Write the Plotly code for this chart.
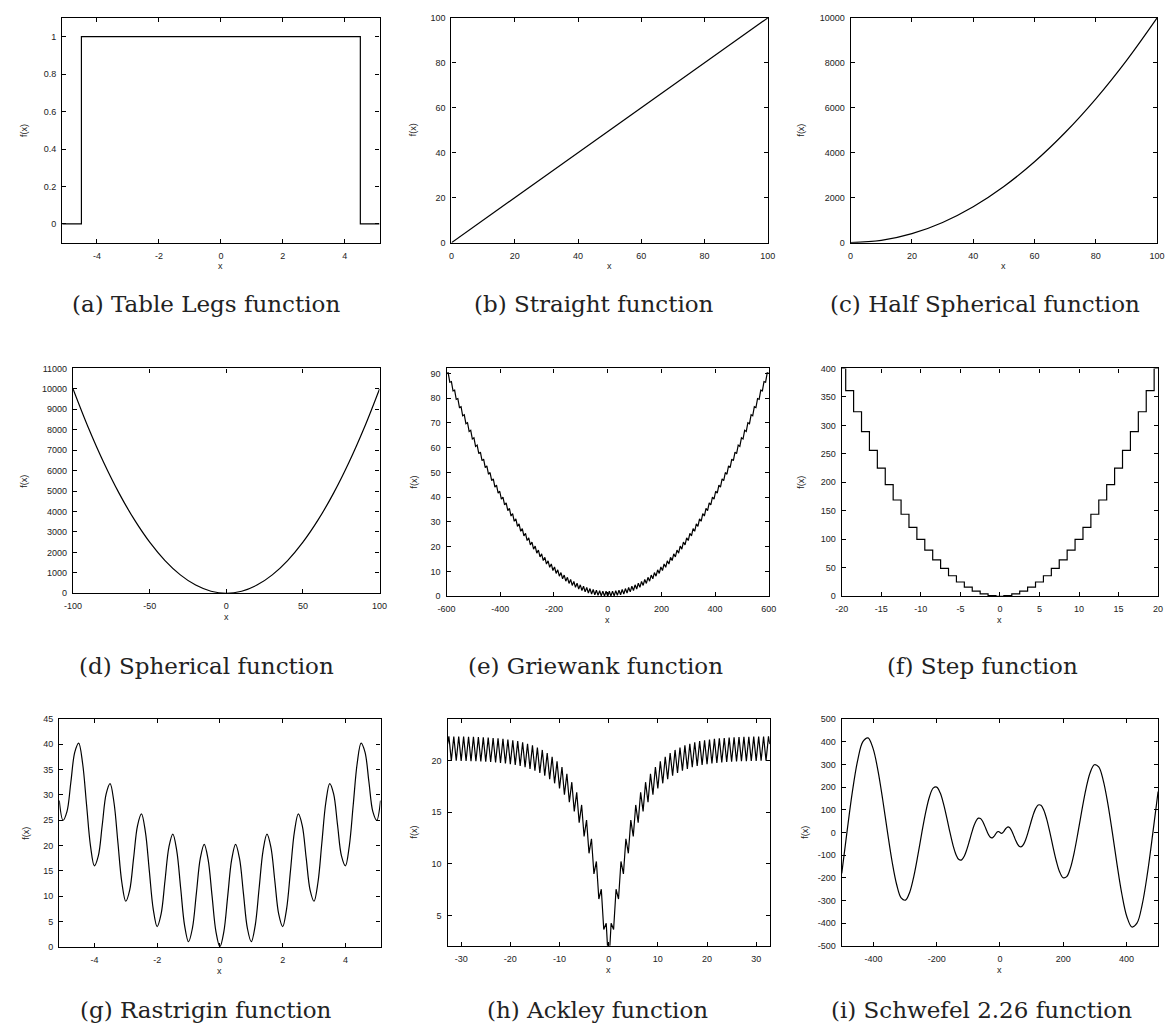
import plotly.graph_objects as go

W, H = 1173, 1034

# ---------------- data ----------------
# (a) Table Legs
tl_x = [-5.12, -4.5, -4.5, 4.5, 4.5, 5.12]
tl_y = [0, 0, 1, 1, 0, 0]

# (b) Straight
st_x = [0, 100]
st_y = [0, 100]

# (c) Half Spherical
hs_x = [0, 10, 20, 30, 40, 50, 60, 70, 80, 90, 100]
hs_y = [0, 100, 400, 900, 1600, 2500, 3600, 4900, 6400, 8100, 10000]

# (d) Spherical
sp_x = [-100, -90, -80, -70, -60, -50, -40, -30, -20, -10, 0,
        10, 20, 30, 40, 50, 60, 70, 80, 90, 100]
sp_y = [10000, 8100, 6400, 4900, 3600, 2500, 1600, 900, 400, 100, 0,
        100, 400, 900, 1600, 2500, 3600, 4900, 6400, 8100, 10000]

# (e) Griewank (sampled every 6 units from -600 to 600)
gw_x = list(range(-600, 601, 6))
gw_y = [90.0, 90.21, 86.44, 86.68, 82.94, 83.23, 79.52, 79.84, 76.18, 76.53,
        72.9, 73.29, 69.7, 70.12, 66.56, 67.03, 63.5, 64.0, 60.52, 61.05,
        57.6, 58.17, 54.76, 55.36, 51.98, 52.63, 49.28, 49.96, 46.66, 47.37,
        44.1, 44.85, 41.62, 42.4, 39.2, 40.03, 36.86, 37.72, 34.6, 35.49,
        32.4, 33.33, 30.28, 31.24, 28.22, 29.23, 26.24, 27.28, 24.34, 25.41,
        22.5, 23.61, 20.74, 21.88, 19.04, 20.23, 17.42, 18.64, 15.88, 17.13,
        14.4, 15.69, 13.0, 14.32, 11.66, 13.03, 10.4, 11.8, 9.22, 10.65,
        8.1, 9.57, 7.06, 8.56, 6.08, 7.63, 5.18, 6.76, 4.36, 5.97,
        3.6, 5.25, 2.92, 4.6, 2.3, 4.03, 1.76, 3.52, 1.3, 3.09,
        0.9, 2.73, 0.58, 2.44, 0.32, 2.23, 0.14, 2.08, 0.04, 2.01,
        0,
        2.01, 0.04, 2.08, 0.14, 2.23, 0.32, 2.44, 0.58, 2.73, 0.9,
        3.09, 1.3, 3.52, 1.76, 4.03, 2.3, 4.6, 2.92, 5.25, 3.6,
        5.97, 4.36, 6.76, 5.18, 7.63, 6.08, 8.56, 7.06, 9.57, 8.1,
        10.65, 9.22, 11.8, 10.4, 13.03, 11.66, 14.32, 13.0, 15.69, 14.4,
        17.13, 15.88, 18.64, 17.42, 20.23, 19.04, 21.88, 20.74, 23.61, 22.5,
        25.41, 24.34, 27.28, 26.24, 29.23, 28.22, 31.24, 30.28, 33.33, 32.4,
        35.49, 34.6, 37.72, 36.86, 40.03, 39.2, 42.4, 41.62, 44.85, 44.1,
        47.37, 46.66, 49.96, 49.28, 52.63, 51.98, 55.36, 54.76, 58.17, 57.6,
        61.05, 60.52, 64.0, 63.5, 67.03, 66.56, 70.12, 69.7, 73.29, 72.9,
        76.53, 76.18, 79.84, 79.52, 83.23, 82.94, 86.68, 86.44, 90.21, 90.0]

# (f) Step
step_x = [-20, -19.5, -18.5, -17.5, -16.5, -15.5, -14.5, -13.5, -12.5, -11.5,
          -10.5, -9.5, -8.5, -7.5, -6.5, -5.5, -4.5, -3.5, -2.5, -1.5, -0.5,
          0.5, 1.5, 2.5, 3.5, 4.5, 5.5, 6.5, 7.5, 8.5, 9.5, 10.5, 11.5, 12.5,
          13.5, 14.5, 15.5, 16.5, 17.5, 18.5, 19.5, 20]
step_y = [400, 361, 324, 289, 256, 225, 196, 169, 144, 121, 100, 81, 64, 49,
          36, 25, 16, 9, 4, 1, 0, 1, 4, 9, 16, 25, 36, 49, 64, 81, 100, 121,
          144, 169, 196, 225, 256, 289, 324, 361, 400, 400]

# (g) Rastrigin (sampled every 0.125 from -5 to 5, plus the two edges)
ra_x = [-5.12] + [j / 8 for j in range(-40, 41)] + [5.12]
ra_y = ([28.9] +
        [25, 26.7, 32.56, 38.46, 40.25, 36.21, 28.06, 19.95,
         16, 17.95, 24.06, 30.21, 32.25, 28.46, 20.56, 12.7,
         9, 11.2, 17.56, 23.96, 26.25, 22.71, 15.06, 7.45,
         4, 6.45, 13.06, 19.71, 22.25, 18.96, 11.56, 4.2,
         1, 3.7, 10.56, 17.46, 20.25, 17.21, 10.06, 2.95,
         0,
         2.95, 10.06, 17.21, 20.25, 17.46, 10.56, 3.7, 1,
         4.2, 11.56, 18.96, 22.25, 19.71, 13.06, 6.45, 4,
         7.45, 15.06, 22.71, 26.25, 23.96, 17.56, 11.2, 9,
         12.7, 20.56, 28.46, 32.25, 30.21, 24.06, 17.95, 16,
         19.95, 28.06, 36.21, 40.25, 38.46, 32.56, 26.7, 25] +
        [28.9])

# (h) Ackley (sampled every 0.5 from -32.5 to 32.5, plus the two edges)
ak_x = [-32.768] + [m * 0.5 for m in range(-65, 66)] + [32.768]
ak_y = ([21.57] +
        [22.32, 19.97, 22.31, 19.96, 22.31, 19.95, 22.3, 19.94, 22.28, 19.93,
         22.27, 19.91, 22.25, 19.89, 22.23, 19.87, 22.2, 19.84, 22.17, 19.8,
         22.13, 19.75, 22.08, 19.7, 22.02, 19.63, 21.95, 19.55, 21.86, 19.45,
         21.75, 19.33, 21.61, 19.18, 21.45, 19.0, 21.25, 18.78, 21.01, 18.51,
         20.71, 18.19, 20.34, 17.78, 19.9, 17.29, 19.36, 16.69, 18.7, 15.96,
         17.89, 15.07, 16.9, 13.98, 15.69, 12.64, 14.22, 11.01, 12.42, 9.02,
         10.22, 6.59, 7.53, 3.63, 4.25,
         0,
         4.25, 3.63, 7.53, 6.59, 10.22, 9.02, 12.42, 11.01, 14.22, 12.64,
         15.69, 13.98, 16.9, 15.07, 17.89, 15.96, 18.7, 16.69, 19.36, 17.29,
         19.9, 17.78, 20.34, 18.19, 20.71, 18.51, 21.01, 18.78, 21.25, 19.0,
         21.45, 19.18, 21.61, 19.33, 21.75, 19.45, 21.86, 19.55, 21.95, 19.63,
         22.02, 19.7, 22.08, 19.75, 22.13, 19.8, 22.17, 19.84, 22.2, 19.87,
         22.23, 19.89, 22.25, 19.91, 22.27, 19.93, 22.28, 19.94, 22.3, 19.95,
         22.31, 19.96, 22.31, 19.97, 22.32] +
        [21.57])

# (i) Schwefel 2.26
sc_x = [-500, -483.61, -466.49, -449.69, -433.18, -416.99, -401.11, -385.53,
        -370.27, -355.31, -340.65, -326.31, -312.28, -298.56, -285.14, -272.03,
        -259.23, -246.74, -234.56, -222.68, -211.12, -199.86, -188.91, -178.27,
        -167.94, -157.91, -148.20, -138.79, -129.69, -120.91, -112.42, -104.25,
        -96.38, -88.83, -81.58, -74.64, -68.01, -61.69, -55.67, -49.97, -44.57,
        -39.48, -34.70, -30.23, -26.06, -22.21, -18.66, -15.42, -12.49, -9.870,
        -7.557, -5.552, -3.855, -2.467, -1.388, -0.617, -0.154,
        0, 0.154, 0.617, 1.388, 2.467, 3.855, 5.552, 7.557, 9.870, 12.49, 15.42,
        18.66, 22.21, 26.06, 30.23, 34.70, 39.48, 44.57, 49.97, 55.67, 61.69,
        68.01, 74.64, 81.58, 88.83, 96.38, 104.25, 112.42, 120.91, 129.69,
        138.79, 148.20, 157.91, 167.94, 178.27, 188.91, 199.86, 211.12, 222.68,
        234.56, 246.74, 259.23, 272.03, 285.14, 298.56, 312.28, 326.31, 340.65,
        355.31, 370.27, 385.53, 401.11, 416.99, 433.18, 449.69, 466.49, 483.61,
        500]
sc_y = [-180.6, 0, 178.67, 317.98, 400.26, 416.99, 370.63, 272.62, 141.81, 0,
        -130.47, -230.74, -288.55, -298.56, -263.47, -192.36, -99.29, 0, 89.84,
        157.46, 195.07, 199.86, 174.55, 126.05, 64.32, 0, -56.76, -98.13,
        -119.83, -120.91, -103.88, -73.71, -36.91, 0, 31.24, 52.77, 62.84,
        61.69, 51.44, 35.33, 17.07, 0, -13.29, -21.37, -24.08, -22.21, -17.24,
        -10.9, -4.78, 0, 2.89, 3.93, 3.56, 2.47, 1.28, 0.44, 0.06,
        0, -0.06, -0.44, -1.28, -2.47, -3.56, -3.93, -2.89, 0, 4.78, 10.9,
        17.24, 22.21, 24.08, 21.37, 13.29, 0, -17.07, -35.33, -51.44, -61.69,
        -62.84, -52.77, -31.24, 0, 36.91, 73.71, 103.88, 120.91, 119.83, 98.13,
        56.76, 0, -64.32, -126.05, -174.55, -199.86, -195.07, -157.46, -89.84,
        0, 99.29, 192.36, 263.47, 298.56, 288.55, 230.74, 130.47, 0, -141.81,
        -272.62, -370.63, -416.99, -400.26, -317.98, -178.67, 0, 180.6]

# tick values
tl_xt = [-4, -2, 0, 2, 4]
tl_yt = [0, 0.2, 0.4, 0.6, 0.8, 1]
st_xt = [0, 20, 40, 60, 80, 100]
st_yt = [0, 20, 40, 60, 80, 100]
hs_xt = [0, 20, 40, 60, 80, 100]
hs_yt = [0, 2000, 4000, 6000, 8000, 10000]
sp_xt = [-100, -50, 0, 50, 100]
sp_yt = [0, 1000, 2000, 3000, 4000, 5000, 6000, 7000, 8000, 9000, 10000, 11000]
gw_xt = [-600, -400, -200, 0, 200, 400, 600]
gw_yt = [0, 10, 20, 30, 40, 50, 60, 70, 80, 90]
step_xt = [-20, -15, -10, -5, 0, 5, 10, 15, 20]
step_yt = [0, 50, 100, 150, 200, 250, 300, 350, 400]
ra_xt = [-4, -2, 0, 2, 4]
ra_yt = [0, 5, 10, 15, 20, 25, 30, 35, 40, 45]
ak_xt = [-30, -20, -10, 0, 10, 20, 30]
ak_yt = [5, 10, 15, 20]
sc_xt = [-400, -200, 0, 200, 400]
sc_yt = [-500, -400, -300, -200, -100, 0, 100, 200, 300, 400, 500]

captions = ["(a) Table Legs function", "(b) Straight function",
            "(c) Half Spherical function", "(d) Spherical function",
            "(e) Griewank function", "(f) Step function",
            "(g) Rastrigin function", "(h) Ackley function",
            "(i) Schwefel 2.26 function"]

# ---------------- layout (pixel boxes) ----------------
panels = [
    dict(x=tl_x, y=tl_y, shape='linear', box=(54, 376, 13, 240), xr=[-5.12, 5.12], yr=[-0.1, 1.1], xt=tl_xt, yt=tl_yt, fx=16, cpos=(200, 302)),
    dict(x=st_x, y=st_y, shape='linear', box=(449, 770, 13, 240), xr=[0, 100], yr=[0, 100], xt=st_xt, yt=st_yt, fx=410, cpos=(594, 302)),
    dict(x=hs_x, y=hs_y, shape='spline', box=(854, 1165, 13, 240), xr=[0, 100], yr=[0, 10000], xt=hs_xt, yt=hs_yt, fx=804, cpos=(990, 302)),
    dict(x=sp_x, y=sp_y, shape='spline', box=(65, 376, 367, 594), xr=[-100, 100], yr=[0, 11000], xt=sp_xt, yt=sp_yt, fx=15, cpos=(200, 667)),
    dict(x=gw_x, y=gw_y, shape='linear', box=(444, 771, 367, 597), xr=[-600, 600], yr=[0, 92], xt=gw_xt, yt=gw_yt, fx=411, cpos=(595, 667)),
    dict(x=step_x, y=step_y, shape='hv', box=(845, 1166, 367, 597), xr=[-20, 20], yr=[0, 400], xt=step_xt, yt=step_yt, fx=804, cpos=(988, 667)),
    dict(x=ra_x, y=ra_y, shape='spline', box=(51, 377, 721, 951), xr=[-5.12, 5.12], yr=[0, 45], xt=ra_xt, yt=ra_yt, fx=17, cpos=(200, 1015)),
    dict(x=ak_x, y=ak_y, shape='linear', box=(445, 772, 721, 950), xr=[-32.768, 32.768], yr=[2.06, 24], xt=ak_xt, yt=ak_yt, fx=411, cpos=(597, 1015)),
    dict(x=sc_x, y=sc_y, shape='spline', box=(845, 1166, 721, 950), xr=[-500, 500], yr=[-500, 500], xt=sc_xt, yt=sc_yt, fx=808, cpos=(987, 1015)),
]

TICKFONT = dict(family="Liberation Sans, Arial, sans-serif", size=9, color="#222")


def lab(v):
    return "%g" % v


fig = go.Figure()
annotations = []
for i, (p, caption) in enumerate(zip(panels, captions)):
    n = "" if i == 0 else str(i + 1)
    L, R, T, B = p["box"]
    fig.add_trace(go.Scatter(
        x=p["x"], y=p["y"], mode="lines",
        line=dict(color="black", width=1.2, shape=p["shape"]),
        xaxis="x" + n, yaxis="y" + n, showlegend=False, hoverinfo="skip"))
    common = dict(showline=True, mirror="ticks", linecolor="black", linewidth=1.3,
                  ticks="inside", ticklen=4, tickwidth=1, tickcolor="black",
                  showgrid=False, zeroline=False, tickfont=TICKFONT, fixedrange=True)
    fig.update_layout(**{
        "xaxis" + n: dict(domain=[L / W, R / W], range=p["xr"], anchor="y" + n,
                          tickmode="array", tickvals=p["xt"],
                          ticktext=[lab(v) for v in p["xt"]],
                          ticklabelstandoff=4, **common),
        "yaxis" + n: dict(domain=[1 - B / H, 1 - T / H], range=p["yr"], anchor="x" + n,
                          tickmode="array", tickvals=p["yt"],
                          ticktext=[lab(v) for v in p["yt"]],
                          ticklabelstandoff=3, **common),
    })
    # axis titles
    annotations.append(dict(text="f(x)", x=p["fx"] / W, y=1 - (T + B) / 2 / H,
                            xref="paper", yref="paper", showarrow=False, textangle=-90,
                            xanchor="center", yanchor="middle",
                            font=dict(family="Liberation Sans, Arial, sans-serif", size=9, color="#222")))
    annotations.append(dict(text="x", x=(L + R) / 2 / W, y=1 - (B + 24) / H,
                            xref="paper", yref="paper", showarrow=False,
                            xanchor="center", yanchor="middle",
                            font=dict(family="Liberation Sans, Arial, sans-serif", size=9, color="#222")))
    cx, cy = p["cpos"]
    annotations.append(dict(text=caption, x=cx / W, y=1 - cy / H, xref="paper", yref="paper",
                            showarrow=False, xanchor="center", yanchor="middle",
                            font=dict(family="DejaVu Serif, serif", size=23, color="#222")))

fig.update_layout(width=W, height=H, margin=dict(l=0, r=0, t=0, b=0),
                  paper_bgcolor="white", plot_bgcolor="white",
                  annotations=annotations, showlegend=False)

fig.write_html("out.html", config={"displayModeBar": False})
